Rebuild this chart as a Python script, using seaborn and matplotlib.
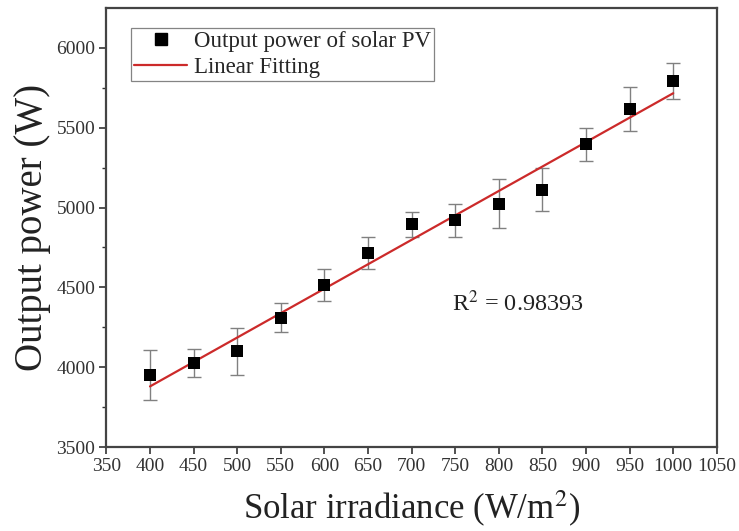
import numpy as np
import pandas as pd
import matplotlib
matplotlib.use('Agg')
import matplotlib.pyplot as plt
from matplotlib.lines import Line2D
import seaborn as sns

irradiance = [400, 450, 500, 550, 600, 650, 700, 750, 800, 850, 900, 950, 1000]
power = [3950, 4025, 4100, 4310, 4515, 4715, 4895, 4920, 5025, 5112, 5395, 5618, 5795]
err = [155, 88, 148, 90, 100, 100, 80, 104, 152, 135, 104, 140, 112]
r2_label = 'R$^2$ = 0.98393'

df = pd.DataFrame({'irradiance': irradiance, 'power': power, 'err': err})
slope, intercept = np.polyfit(df['irradiance'], df['power'], 1)
df['fit'] = slope * df['irradiance'] + intercept

sns.set_style('ticks')
plt.rcParams['font.family'] = ['Liberation Serif', 'DejaVu Serif']
plt.rcParams['mathtext.fontset'] = 'stix'

fig, ax = plt.subplots(figsize=(7.39, 5.31), dpi=100)
fig.subplots_adjust(left=0.144, right=0.970, top=0.985, bottom=0.158)

ax.errorbar(df['irradiance'], df['power'], yerr=df['err'], fmt='none',
            ecolor='#808080', elinewidth=1.0, capsize=5, capthick=1.0, zorder=2)
sns.lineplot(data=df, x='irradiance', y='fit', color='#cc2a2a', linewidth=1.6,
             ax=ax, zorder=3)
sns.scatterplot(data=df, x='irradiance', y='power', marker='s', color='black',
                s=70, edgecolor='black', linewidth=0, ax=ax, zorder=4)

ax.set_xlim(350, 1050)
ax.set_ylim(3500, 6250)
ax.set_xticks(np.arange(350, 1051, 50))
ax.set_yticks(np.arange(3500, 6001, 500))
ax.set_yticks(np.arange(3750, 6250, 500), minor=True)
ax.tick_params(axis='both', which='major', direction='out', length=5, width=1.2,
               labelsize=14, color='#333333', labelcolor='#333333', pad=3)
ax.tick_params(axis='y', which='minor', direction='out', length=3, width=1.0, color='#333333')
for sp in ax.spines.values():
    sp.set_linewidth(1.6)
    sp.set_color('#444444')

ax.set_xlabel('Solar irradiance (W/m$^2$)', fontsize=25, color='#222222', labelpad=10)
ax.set_ylabel('Output power (W)', fontsize=28, color='#222222', labelpad=4)

ax.text(0.566, 0.328, r2_label, transform=ax.transAxes, fontsize=17.5,
        color='#222222', va='center')

handles = [Line2D([], [], marker='s', color='black', linestyle='none', markersize=8),
           Line2D([], [], color='#cc2a2a', linewidth=1.6)]
leg = ax.legend(handles, ['Output power of solar PV', 'Linear Fitting'],
                loc='upper left', bbox_to_anchor=(0.04, 0.955), fontsize=16.5,
                frameon=True, fancybox=False, edgecolor='#666666',
                borderpad=0.15, labelspacing=0.2, handlelength=2.3,
                handletextpad=0.3, borderaxespad=0)
leg.get_frame().set_linewidth(0.9)

plt.savefig('out.png', dpi=100)
plt.close()
